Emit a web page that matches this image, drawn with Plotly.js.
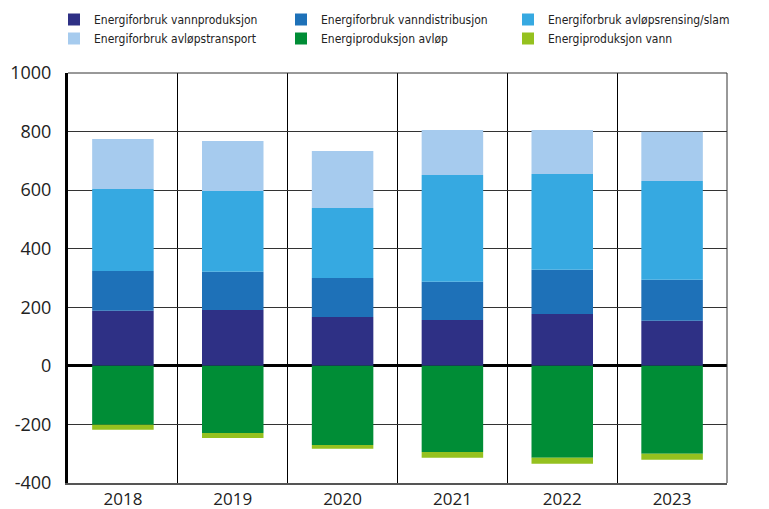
<!DOCTYPE html>
<html>
<head>
<meta charset="utf-8">
<script src="https://cdn.plot.ly/plotly-3.0.1.min.js"></script>
<style>html,body{margin:0;padding:0;background:#fff;}#chart{width:769px;height:509px;}</style>
</head>
<body>
<div id="chart"></div>
<script>
const years = ['2018', '2019', '2020', '2021', '2022', '2023'];
const vannproduksjon = [188, 191, 167, 157, 177, 154];
const vanndistribusjon = [136, 130, 133, 130, 151, 140];
const avlopsrensing = [280, 276, 239, 365, 327, 337];
const avlopstransport = [171, 171, 195, 153, 150, 168];
const produksjonAvlop = [-201, -229, -270, -294, -314, -300];
const produksjonVann = [-17, -17, -13, -20, -20, -21];
const yTicks = [-400, -200, 0, 200, 400, 600, 800, 1000];

const names = [
  'Energiforbruk vannproduksjon',
  'Energiforbruk vanndistribusjon',
  'Energiforbruk avløpsrensing/slam',
  'Energiforbruk avløpstransport',
  'Energiproduksjon avløp',
  'Energiproduksjon vann'
];
const series = [vannproduksjon, vanndistribusjon, avlopsrensing, avlopstransport, produksjonAvlop, produksjonVann];
const colors = ['#2e3085', '#1e71b8', '#36a9e1', '#a6cbee', '#008d36', '#95c11f'];

const data = series.map((s, i) => ({
  type: 'bar',
  x: years,
  y: s,
  name: names[i],
  marker: {color: colors[i], line: {width: 0}},
  hoverinfo: 'name+y'
}));

const layout = {
  width: 769,
  height: 509,
  margin: {l: 68, r: 42, t: 73, b: 26, pad: 0, autoexpand: false},
  paper_bgcolor: '#fff',
  plot_bgcolor: '#fff',
  barmode: 'relative',
  bargap: 0.44,
  showlegend: true,
  legend: {
    orientation: 'h',
    xref: 'paper', yref: 'paper',
    x: -14 / 659, y: (483 - 5) / 410,
    xanchor: 'left', yanchor: 'top',
    traceorder: 'normal',
    entrywidth: 182, entrywidthmode: 'pixels',
    font: {family: '"Liberation Sans Narrow", "DejaVu Sans Condensed", "Noto Sans", sans-serif', size: 12, color: '#222'},
    bgcolor: 'rgba(0,0,0,0)'
  },
  xaxis: {
    type: 'category',
    range: [-0.5, 5.5],
    tickson: 'boundaries',
    showgrid: true,
    gridcolor: '#000',
    gridwidth: 1,
    ticks: '',
    showline: true,
    linecolor: '#555',
    linewidth: 2,
    mirror: false,
    tickfont: {family: '"Open Sans", "Noto Sans", sans-serif', size: 17, color: '#222'},
    ticklabelstandoff: 0,
    fixedrange: true
  },
  yaxis: {
    range: [-400, 1000],
    tickvals: yTicks,
    ticktext: yTicks.map(String),
    showgrid: true,
    gridcolor: '#333',
    gridwidth: 1,
    zeroline: true,
    zerolinecolor: '#000',
    zerolinewidth: 3,
    showline: true,
    linecolor: '#000',
    linewidth: 3,
    ticks: '',
    tickfont: {family: '"Open Sans", "Noto Sans", sans-serif', size: 18, color: '#222'},
    ticklabelstandoff: 10,
    fixedrange: true
  },
  shapes: [
    {type: 'line', xref: 'paper', yref: 'paper', x0: 0, x1: 1, y0: 1, y1: 1, line: {color: '#333', width: 1}},
    {type: 'line', xref: 'paper', yref: 'paper', x0: 1, x1: 1, y0: 0, y1: 1, line: {color: '#333', width: 1}}
  ]
};

Plotly.newPlot('chart', data, layout, {displayModeBar: false, staticPlot: true});
</script>
</body>
</html>
